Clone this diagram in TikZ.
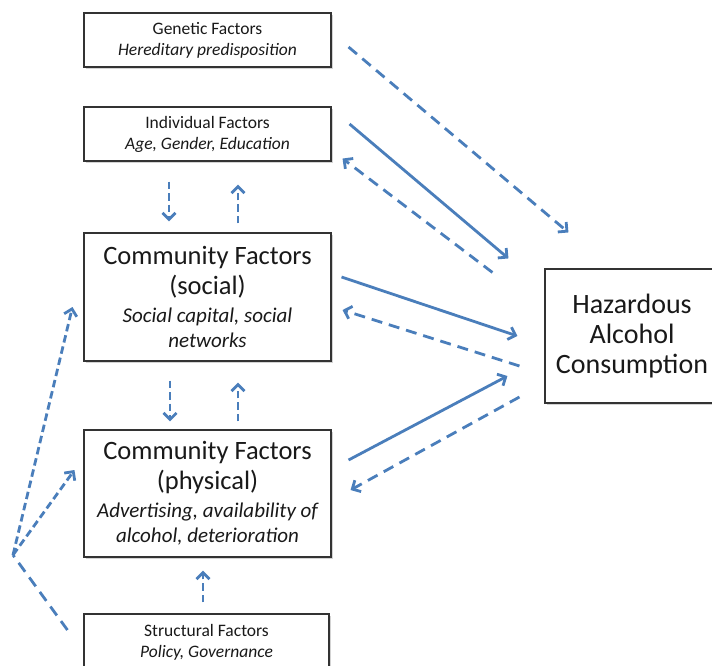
\documentclass[tikz,border=0pt]{standalone}
\usepackage{fontspec}
\setmainfont{Carlito}
\usetikzlibrary{arrows.meta,shadows}
\definecolor{linkblue}{HTML}{4A7EBB}
\begin{document}
\begin{tikzpicture}[x=1pt,y=-1pt,
  box/.style={draw=black!80, line width=1.1pt, fill=white, inner sep=0pt,
    align=center, text=black!90,
    drop shadow={shadow xshift=1.8pt, shadow yshift=-1.8pt, opacity=0.35}},
  smallbox/.style={box, minimum width=247pt, minimum height=54pt,
    font=\fontsize{17.5}{21}\selectfont},
  bigbox/.style={box, minimum width=247pt, minimum height=128pt,
    font=\fontsize{26.5}{30}\selectfont},
  link/.style={draw=linkblue, line width=2.8pt,
    -{Straight Barb[length=6.5pt,width=13pt]}},
  longdash/.style={dash pattern=on 11pt off 7pt},
  shortdash/.style={dash pattern=on 7.5pt off 4pt}]
\useasboundingbox (0,0) rectangle (712,665);

% factor boxes
\node[smallbox] (gen) at (207.5,40)
  {Genetic Factors\\\textit{Hereditary predisposition}};
\node[smallbox] (ind) at (207.5,134)
  {Individual Factors\\\textit{Age, Gender, Education}};
\node[bigbox] (soc) at (207.5,297)
  {Community Factors\\(social)\\[-2pt]{\fontsize{21}{25}\selectfont\itshape Social capital, social}\\[-5pt]{\fontsize{21}{25}\selectfont\itshape networks}};
\node[bigbox, minimum height=127pt] (phy) at (207.5,493.5)
  {Community Factors\\(physical)\\[-2pt]{\fontsize{21}{25}\selectfont\itshape Advertising, availability of}\\[-5pt]{\fontsize{21}{25}\selectfont\itshape alcohol, deterioration}};
\node[smallbox, minimum width=245pt, minimum height=56pt] (str) at (206.5,642)
  {Structural Factors\\\textit{Policy, Governance}};
\node[box, minimum width=174pt, minimum height=134pt,
  font=\fontsize{28}{30}\selectfont] (haz) at (632,336)
  {Hazardous\\Alcohol\\Consumption};

% influences on consumption and feedback
\draw[link, longdash] ([shift={(17,7)}]gen.east) -- ([shift={(24,-36)}]haz.north west);
\draw[link] ([shift={(18,-10)}]ind.east) -- ([shift={(-36,-10)}]haz.north west);
\draw[link, longdash] ([shift={(-52,4)}]haz.north west) -- ([shift={(11,-3)}]ind.south east);
\draw[link] ([shift={(10,-20)}]soc.east) -- ([shift={(-27,0)}]haz.west);
\draw[link, longdash] ([shift={(-25,30)}]haz.west) -- ([shift={(11,13)}]soc.east);
\draw[link] ([shift={(17,-33.5)}]phy.east) -- ([shift={(-37,40)}]haz.west);
\draw[link, longdash] ([shift={(-25,61)}]haz.west) -- ([shift={(19,-3.5)}]phy.east);

% links between the stacked factors
\draw[link, shortdash] ([shift={(-38.5,20)}]ind.south) -- ([shift={(-38.5,-11)}]soc.north);
\draw[link, shortdash] ([shift={(30.5,-9)}]soc.north) -- ([shift={(30.5,23)}]ind.south);
\draw[link, shortdash] ([shift={(-37.5,19)}]soc.south) -- ([shift={(-37.5,-8)}]phy.north);
\draw[link, shortdash] ([shift={(30.5,-8)}]phy.north) -- ([shift={(30.5,21)}]soc.south);
\draw[link, shortdash] ([shift={(-3.5,-11)}]str.north) -- ([shift={(-4.5,13)}]phy.south);

% structural factors acting on both community levels
\coordinate (fork) at (13,555);
\draw[draw=linkblue, line width=2.8pt, longdash] ([shift={(-16,-12)}]str.west) -- (fork);
\draw[link, shortdash] (fork) -- ([shift={(-11,10)}]soc.west);
\draw[link, shortdash] (fork) -- ([shift={(-9,-23.5)}]phy.west);
\end{tikzpicture}
\end{document}
